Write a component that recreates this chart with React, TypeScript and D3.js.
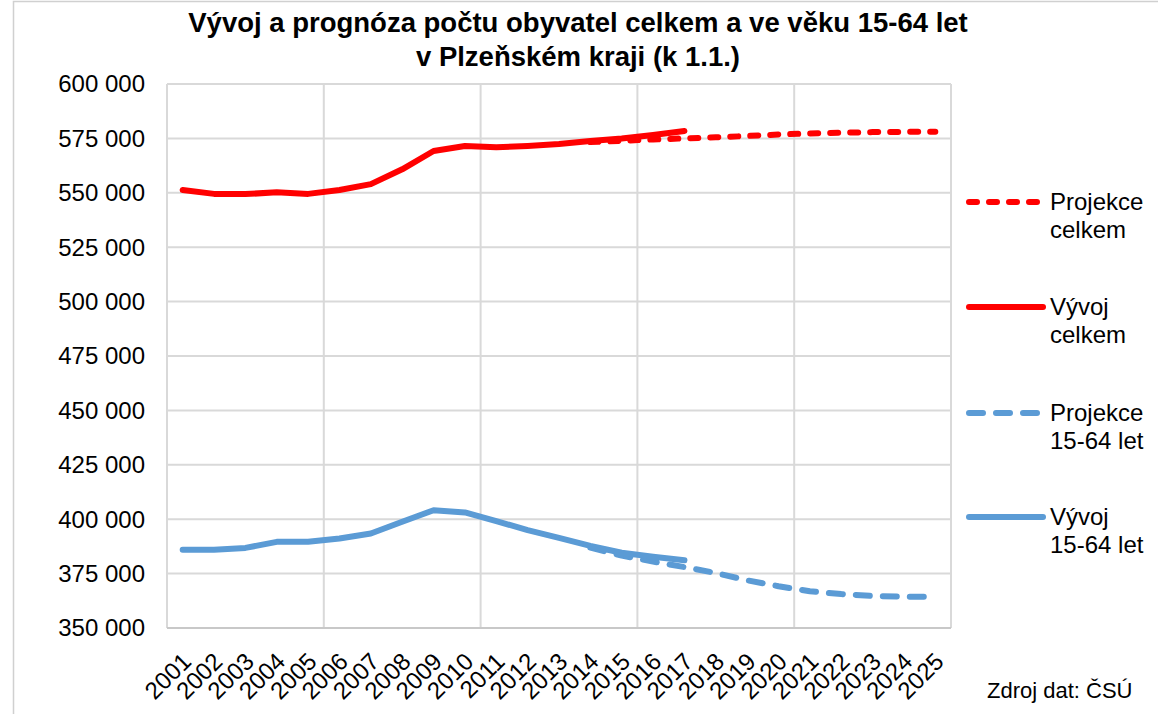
import React from 'react';
import * as d3 from 'd3';

// categories (k 1.1.)
const years = [
  '2001', '2002', '2003', '2004', '2005', '2006', '2007', '2008', '2009',
  '2010', '2011', '2012', '2013', '2014', '2015', '2016', '2017', '2018',
  '2019', '2020', '2021', '2022', '2023', '2024', '2025',
];

// Vývoj celkem, 2001-2017
const vyvojCelkemStart = '2001';
const vyvojCelkem = [
  551300, 549500, 549400, 550200, 549500, 551300, 554000, 560800, 569200,
  571500, 570900, 571500, 572400, 573800, 575000, 576600, 578400,
];

// Projekce celkem, 2014-2025
const projekceCelkemStart = '2014';
const projekceCelkem = [
  573300, 573900, 574500, 575000, 575500, 576100, 576800, 577300, 577600,
  577900, 578000, 578100,
];

// Vývoj 15-64 let, 2001-2017
const vyvoj1564Start = '2001';
const vyvoj1564 = [
  386000, 386000, 386800, 389600, 389600, 391100, 393400, 398800, 404100,
  403100, 399100, 395000, 391400, 387700, 384600, 382700, 381100,
];

// Projekce 15-64 let, 2014-2025
const projekce1564Start = '2014';
const projekce1564 = [
  386900, 383300, 380500, 378000, 375300, 371900, 369200, 366900, 365600,
  364700, 364400, 364300,
];

const yTicks = [350000, 375000, 400000, 425000, 450000, 475000, 500000, 525000, 550000, 575000, 600000];

const legendItems = [
  { lines: ['Projekce', 'celkem'], color: '#FF0000', dash: '8 12' },
  { lines: ['Vývoj', 'celkem'], color: '#FF0000', dash: null },
  { lines: ['Projekce', '15-64 let'], color: '#5B9BD5', dash: '14 13' },
  { lines: ['Vývoj', '15-64 let'], color: '#5B9BD5', dash: null },
];

const FONT = 'Liberation Sans, Arial, sans-serif';

export default function App() {
  const width = 1158;
  const height = 714;
  const plot = { left: 167, right: 951, top: 84, bottom: 628 };

  const x = d3.scaleBand().domain(years).range([plot.left, plot.right]);
  const cx = (yr: string) => (x(yr) as number) + x.bandwidth() / 2;
  const y = d3.scaleLinear().domain([350000, 600000]).range([plot.bottom, plot.top]);

  const fmt = (v: number) => d3.format(',')(v).replace(/,/g, ' ');

  const toPoints = (start: string, vals: number[]) => {
    const i0 = years.indexOf(start);
    return vals.map((v, i) => [cx(years[i0 + i]), y(v)] as [number, number]);
  };
  const line = d3.line();

  const series = [
    { pts: toPoints(projekceCelkemStart, projekceCelkem), color: '#FF0000', dash: '8 12' },
    { pts: toPoints(projekce1564Start, projekce1564), color: '#5B9BD5', dash: '14 13' },
    { pts: toPoints(vyvojCelkemStart, vyvojCelkem), color: '#FF0000', dash: null },
    { pts: toPoints(vyvoj1564Start, vyvoj1564), color: '#5B9BD5', dash: null },
  ];

  // vertical gridlines every 5 categories
  const vGrid = years
    .map((yr, i) => ({ yr, i }))
    .filter((d) => d.i % 5 === 0)
    .map((d) => x(d.yr) as number)
    .concat([plot.right]);

  const legendY = [202, 307, 413, 517];

  return (
    <svg
      width={width}
      height={height}
      style={{ position: 'absolute', left: 0, top: 0, background: '#fff' }}
      fontFamily={FONT}
    >
      <rect x={13.5} y={1.5} width={1170} height={730} fill="#fff" stroke="#D0D0D0" strokeWidth={1.5} />

      <text x={578} y={32} textAnchor="middle" fontSize={27.5} fontWeight="bold" fill="#000">
        Vývoj a prognóza počtu obyvatel celkem a ve věku 15-64 let
      </text>
      <text x={578} y={66} textAnchor="middle" fontSize={27.5} fontWeight="bold" fill="#000">
        v Plzeňském kraji (k 1.1.)
      </text>

      {yTicks.map((t) => (
        <g key={t}>
          <line x1={plot.left} x2={plot.right} y1={y(t)} y2={y(t)} stroke="#D9D9D9" strokeWidth={2} />
          <text x={145} y={y(t)} dy="0.35em" textAnchor="end" fontSize={24} fill="#000">
            {fmt(t)}
          </text>
        </g>
      ))}
      {vGrid.map((gx, i) => (
        <line key={i} x1={gx} x2={gx} y1={plot.top} y2={plot.bottom} stroke="#D9D9D9" strokeWidth={2} />
      ))}
      <line x1={plot.left} x2={plot.right} y1={plot.bottom} y2={plot.bottom} stroke="#C8C8C8" strokeWidth={2} />

      {series.map((s, i) => (
        <path
          key={i}
          d={line(s.pts) || ''}
          fill="none"
          stroke={s.color}
          strokeWidth={6}
          strokeLinecap="round"
          strokeLinejoin="round"
          strokeDasharray={s.dash || undefined}
        />
      ))}

      {years.map((yr) => (
        <text
          key={yr}
          transform={`translate(${cx(yr) + 4},657) rotate(-45)`}
          dy="0.35em"
          textAnchor="end"
          fontSize={24}
          fill="#000"
        >
          {yr}
        </text>
      ))}

      {legendItems.map((d, i) => (
        <g key={i}>
          <line
            x1={969}
            x2={1043}
            y1={legendY[i]}
            y2={legendY[i]}
            stroke={d.color}
            strokeWidth={6}
            strokeLinecap="round"
            strokeDasharray={d.dash || undefined}
          />
          <text x={1050} y={legendY[i] + 8} fontSize={24} fill="#000">{d.lines[0]}</text>
          <text x={1050} y={legendY[i] + 36} fontSize={24} fill="#000">{d.lines[1]}</text>
        </g>
      ))}

      <text x={987} y={698} fontSize={22} fill="#000">Zdroj dat: ČSÚ</text>
    </svg>
  );
}
